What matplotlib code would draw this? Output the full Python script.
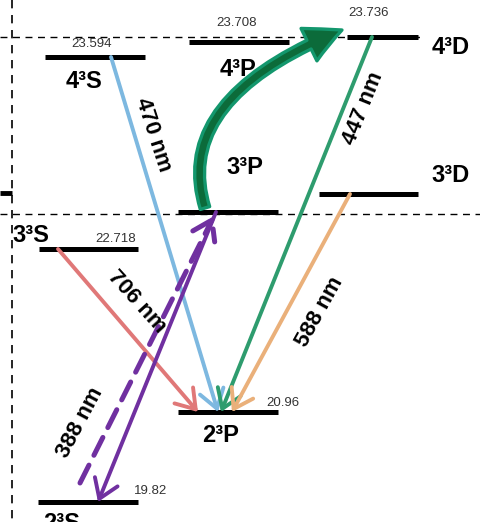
import matplotlib.pyplot as plt
from matplotlib.patches import FancyArrowPatch

plt.rcParams['font.family'] = ['Liberation Sans', 'DejaVu Sans']

# energy levels (drawn not to scale, positions)
levels = ['4³S', '4³P', '4³D', '3³D', '3³P', '3³S', '2³P', '2³S']
level_y = [57, 42, 37, 194, 212, 249, 412, 502]
level_x0 = [45, 189, 347, 319, 178, 39, 178, 38]
level_x1 = [145, 289, 418, 418, 278, 138, 278, 138]
energies = ['23.594', '23.708', '23.736', '', '', '22.718', '20.96', '19.82']

# emission lines
wavelengths = ['470 nm', '447 nm', '588 nm', '706 nm', '388 nm']
upper = ['4³S', '4³D', '3³D', '3³S', '3³P']
lower = ['2³P', '2³P', '2³P', '2³P', '2³S']
x_upper = [111, 372, 350, 58, 216]
x_lower = [218, 221, 232, 198, 98]
colors = ['#7db8e0', '#2e9c6e', '#eab07a', '#e07878', '#7030a0']

# 388 nm laser excitation 2³S -> 3³P (dashed)
excite_x = [80, 214]

fig = plt.figure(figsize=(4.8, 5.22), dpi=100)
ax = fig.add_axes([0, 0, 1, 1])
ax.set_xlim(0, 480)
ax.set_ylim(522, 0)
ax.axis('off')

ly = dict(zip(levels, level_y))

# dashed guide lines
ax.plot([12, 12], [0, 522], color='black', lw=1.2, ls=(0, (5, 4)), zorder=1)
ax.plot([0, 425], [ly['4³D'], ly['4³D']], color='black', lw=1.0, ls=(0, (5, 4)), zorder=1)
ax.plot([0, 480], [214, 214], color='black', lw=1.0, ls=(0, (5, 4)), zorder=1)
ax.plot([0, 12], [193, 193], color='black', lw=3.5, solid_capstyle='butt', zorder=1)

# level bars
for x0, x1, y in zip(level_x0, level_x1, level_y):
    ax.plot([x0, x1], [y, y], color='black', lw=3.6, solid_capstyle='butt', zorder=3)

# level names
name_pos = {'4³S': (84, 81), '4³P': (238, 70), '4³D': (451, 47), '3³D': (451, 175),
            '3³P': (245, 168), '3³S': (31, 236), '2³P': (221, 435), '2³S': (62, 523)}
for name in levels:
    x, y = name_pos[name]
    ax.text(x, y, name, fontsize=17, fontweight='bold', ha='center', va='center', zorder=5)

# energy values
energy_pos = [(92, 44), (237, 23), (369, 13), None, None, (116, 239), (283, 403), (151, 491)]
for e, p in zip(energies, energy_pos):
    if e:
        ax.text(p[0], p[1], e, fontsize=9.5, color='#333333', ha='center', va='center', zorder=5)

# emission arrows
for xu, xl, u, l, c in zip(x_upper, x_lower, upper, lower, colors):
    arr = FancyArrowPatch((xu, ly[u]), (xl, ly[l]), arrowstyle='->,head_length=0.6,head_width=0.4',
                          mutation_scale=22, color=c, lw=2.8, shrinkA=0, shrinkB=0, zorder=4)
    ax.add_patch(arr)

# dashed excitation arrow
ax.add_patch(FancyArrowPatch((excite_x[0], ly['2³S'] - 19), (excite_x[1], ly['3³P'] + 4),
                             arrowstyle='->,head_length=0.6,head_width=0.4', mutation_scale=22,
                             color=colors[4], lw=3.6, ls=(0, (4, 2.2)), shrinkA=0, shrinkB=0, zorder=4))

# curved arrow 3³P -> 4³D
ax.add_patch(FancyArrowPatch((205, 208), (342, 30), connectionstyle='angle3,angleA=107,angleB=22',
                             arrowstyle='simple,head_length=26,head_width=26,tail_width=7',
                             facecolor='#0c6b3a', edgecolor='#13976d', lw=2.4,
                             shrinkA=0, shrinkB=0, zorder=6))

# wavelength labels
label_pos = [(153, 135), (363, 108), (320, 312), (137, 302), (80, 423)]
label_rot = [-72, 68, 61, -48, 62]
for w, p, r in zip(wavelengths, label_pos, label_rot):
    ax.text(p[0], p[1], w, fontsize=16, fontweight='bold', rotation=r,
            ha='center', va='center', rotation_mode='anchor', zorder=5)

fig.savefig('out.png', dpi=100)
